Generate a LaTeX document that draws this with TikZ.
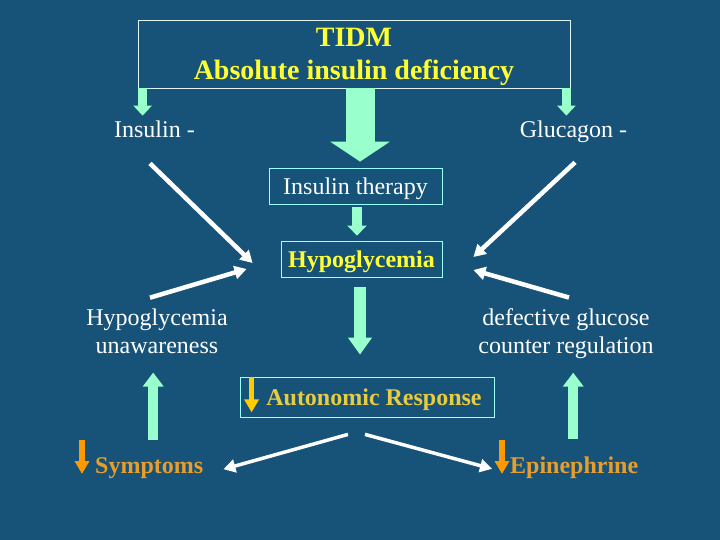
\documentclass[tikz,border=0pt]{standalone}
\usepackage{fontspec}
\setmainfont{Liberation Serif}
\usepackage{xcolor}
\usepackage{tikz}
\usetikzlibrary{arrows.meta,positioning}

\definecolor{slide}{HTML}{175379}
\definecolor{mint}{HTML}{99FFCC}
\definecolor{hiyel}{HTML}{FFFF33}
\definecolor{gold}{HTML}{E8CC40}
\definecolor{symp}{HTML}{E89E2C}
\definecolor{orar}{HTML}{FF9900}
\definecolor{goar}{HTML}{FFCC00}
\definecolor{edge}{HTML}{99FFFF}
\definecolor{frame}{HTML}{E0F4F4}

\begin{document}
\begin{tikzpicture}[x=1pt,y=-1pt,
  bx/.style={draw=edge, line width=0.8pt, inner sep=0pt, text depth=0pt},
  lb/.style={text=white, inner sep=0pt, font=\fontsize{24}{28}\selectfont},
  blk/.style={draw=mint, fill=mint, line width=#1},
  wh/.style={draw=white, line width=4.5pt, -{Triangle[width=13pt,length=12pt]}},
  dn/.style={line width=5pt, -{Triangle[width=14pt,length=13pt]}}]
\fill[slide] (0,0) rectangle (720,540);
\useasboundingbox (0,0) rectangle (720,540);

% boxes
\node[bx, draw=frame, minimum width=432pt, minimum height=68pt, align=center, text=hiyel,
  font=\bfseries\fontsize{28}{33}\selectfont] (top) at (354,54) {TIDM\\Absolute insulin deficiency};
\node[bx, minimum width=173pt, minimum height=36pt, text=white,
  font=\fontsize{24}{28}\selectfont] (ther) at (355.5,186) {Insulin therapy};
\node[bx, minimum width=161pt, minimum height=36pt, text=hiyel,
  font=\bfseries\fontsize{24}{28}\selectfont] (hypo) at (361.5,259) {Hypoglycemia};
\node[bx, minimum width=254pt, minimum height=40pt, text=gold,
  font=\bfseries\fontsize{24}{28}\selectfont] (auto) at (367,397) {\hspace{14pt}Autonomic Response};

% labels
\node[lb, anchor=base] (ins) at (154.5,138) {Insulin -};
\node[lb, anchor=base] (glu) at (573.5,138) {Glucagon -};
\node[lb, align=center, text depth=0pt] (unaw) at (157,331) {Hypoglycemia\\unawareness};
\node[lb, align=center, text depth=0pt] (cntr) at (566,331) {defective glucose\\counter regulation};
\node[lb, anchor=base west, text=symp, font=\bfseries\fontsize{24}{28}\selectfont] (sym) at (95,473) {Symptoms};
\node[lb, anchor=base west, text=symp, font=\bfseries\fontsize{24}{28}\selectfont] (epi) at (510,473) {Epinephrine};

% mint block arrows
\draw[blk=9pt, -{Triangle[width=18pt,length=10pt]}, shorten >=5.5pt]
  ([xshift=5pt]top.south west) -- ([xshift=5pt]top.south west |- ins.north);
\draw[blk=9pt, -{Triangle[width=18pt,length=10pt]}, shorten >=5.5pt]
  ([xshift=-4pt]top.south east) -- ([xshift=-4pt]top.south east |- glu.north);
\draw[blk=29pt, -{Triangle[width=59pt,length=20pt]}, shorten >=6pt]
  ([xshift=6pt]top.south) -- ([xshift=4.5pt]ther.north);
\draw[blk=10pt, -{Triangle[width=19pt,length=10pt]}, shorten <=3pt, shorten >=5pt]
  ([xshift=1.5pt]ther.south) -- ([xshift=1.5pt]ther.south |- hypo.north);
\draw[blk=12pt, -{Triangle[width=23pt,length=17pt]}, shorten <=10pt, shorten >=22pt]
  ([xshift=-1.5pt]hypo.south) -- ([xshift=-1.5pt]hypo.south |- auto.north);
\draw[blk=10pt, -{Triangle[width=20pt,length=14pt]}, shorten <=17pt, shorten >=19pt]
  ([xshift=4pt]sym.north) -- ([xshift=4pt]sym.north |- unaw.south);
\draw[blk=10pt, -{Triangle[width=20pt,length=14pt]}, shorten <=17pt, shorten >=19pt]
  ([xshift=-1pt]epi.north) -- ([xshift=-1pt]epi.north |- cntr.south);

% white arrows into and out of the loop
\draw[wh] ([shift={(-4.5,25)}]ins.south) -- ([shift={(-28,4)}]hypo.west);
\draw[wh] ([shift={(-7,-10.8)}]unaw.north) -- ([shift={(-34,10)}]hypo.west);
\draw[wh] ([shift={(1.5,19)}]glu.south) -- ([shift={(31,-2)}]hypo.east);
\draw[wh] ([shift={(3,-10.8)}]cntr.north) -- ([shift={(31,11)}]hypo.east);
\draw[wh, line width=3.5pt] ([shift={(-19,17)}]auto.south) -- ([shift={(20,1.6)}]sym.east);
\draw[wh, line width=3.5pt] ([shift={(-2,17)}]auto.south) -- ([shift={(-18,1.6)}]epi.west);

% small down arrows
\draw[dn, draw=goar, fill=goar] ([xshift=12pt]auto.north west) -- ([xshift=12pt,yshift=5pt]auto.south west);
\draw[dn, draw=orar, fill=orar, line width=6pt] ([xshift=-13pt,yshift=33pt]sym.base west) -- ([xshift=-13pt,yshift=-1pt]sym.base west);
\draw[dn, draw=orar, fill=orar, line width=6pt] ([xshift=-8pt,yshift=33pt]epi.base west) -- ([xshift=-8pt,yshift=-1pt]epi.base west);
\end{tikzpicture}
\end{document}
